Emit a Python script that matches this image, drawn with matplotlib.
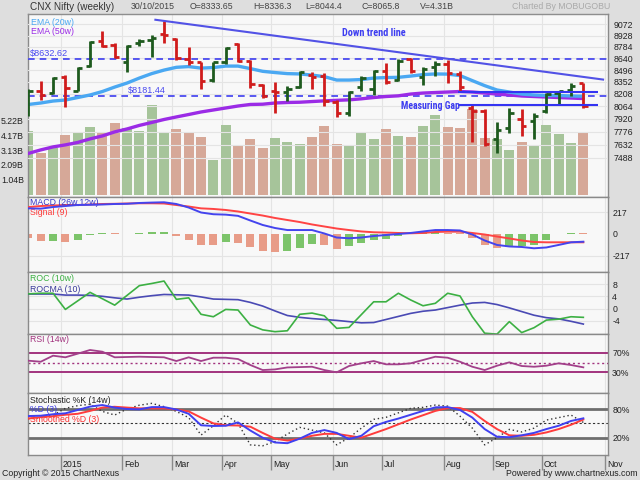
import numpy as np
import matplotlib
matplotlib.use('Agg')
import matplotlib.pyplot as plt
from matplotlib.ticker import FixedLocator, NullLocator, FixedFormatter

plt.rcParams['font.family'] = ['Liberation Sans', 'DejaVu Sans']

# ---------------- data (weekly bars, 19 Dec 2014 .. 30 Oct 2015) ----------------
opens = [8150, 8248, 8214, 8415, 8247, 8550, 8853, 8812, 8591, 8833, 8871, 8948, 8879, 8633,
         8591, 8375, 8599, 8821, 8612, 8319, 8247, 8226, 8295, 8440, 8428, 8119, 7991, 8286,
         8267, 8489, 8375, 8633, 8415, 8529, 8571, 8448, 8049, 8011, 7691, 7814, 7916, 7896,
         8011, 8214, 8259, 8333.65]
highs = [8267, 8367, 8407, 8440, 8529, 8853, 8981, 8828, 8812, 8884, 8935, 9111, 8892, 8777,
         8599, 8600, 8777, 8828, 8624, 8327, 8355, 8307, 8480, 8468, 8460, 8135, 8247, 8428,
         8497, 8578, 8633, 8645, 8529, 8603, 8620, 8489, 8088, 8030, 7882, 8049, 8034, 7991,
         8214, 8247, 8334, 8336.3]
lows = [7953, 8139, 8207, 8057, 8238, 8538, 8777, 8645, 8476, 8799, 8652, 8833, 8620, 8558,
        8267, 8346, 8571, 8591, 8279, 8159, 7991, 8127, 8279, 8267, 8068, 7942, 7953, 8247,
        8198, 8327, 8358, 8460, 8319, 8428, 8334, 8247, 7665, 7617, 7544, 7764, 7727, 7691,
        7991, 8088, 8186, 8044.4]
closes = [8238, 8198, 8400, 8274, 8517, 8841, 8790, 8661, 8799, 8853, 8897, 8939, 8645, 8591,
          8367, 8591, 8765, 8603, 8327, 8186, 8226, 8267, 8468, 8415, 8127, 7991, 8226, 8400,
          8480, 8355, 8612, 8489, 8510, 8571, 8456, 8286, 8011, 7636, 7791, 7991, 7840, 7953,
          8207, 8247, 8307, 8065.8]
volumes_b = [4.45, 2.90, 3.27, 4.18, 4.36, 4.75, 4.34, 4.99, 4.68, 4.48, 6.26, 4.36, 4.61, 4.34,
             4.02, 2.44, 4.87, 3.41, 3.88, 3.29, 3.99, 3.71, 3.55, 4.02, 4.82, 3.55, 3.41, 4.34,
             3.92, 4.57, 4.09, 4.02, 4.80, 5.57, 4.75, 4.68, 5.96, 3.99, 3.90, 3.11, 3.67, 3.43,
             4.89, 4.22, 3.60, 4.31]
ema20 = [8085, 8102, 8125, 8137, 8166, 8196, 8237, 8290, 8338, 8398, 8452, 8495, 8529, 8538,
         8519, 8526, 8544, 8544, 8513, 8480, 8465, 8452, 8448, 8434, 8415, 8374, 8374, 8380,
         8398, 8404, 8407, 8422, 8440, 8448, 8446, 8428, 8367, 8307, 8255, 8231, 8207, 8196,
         8190, 8190, 8184, 8181]
ema50 = [7535, 7573, 7606, 7628, 7655, 7694, 7727, 7772, 7805, 7845, 7878, 7912, 7941, 7969,
         7998, 8021, 8044, 8067, 8085, 8088, 8102, 8108, 8111, 8119, 8127, 8133, 8139, 8151,
         8166, 8178, 8186, 8207, 8219, 8225, 8231, 8237, 8231, 8219, 8207, 8196, 8184, 8178,
         8172, 8166, 8160, 8154]
macd = [253, 250, 266, 276, 286, 288, 291, 296, 298, 306, 310, 313, 296, 261, 212, 195, 191,
        179, 133, 89, 59, 39, 39, 39, 5, -35, -42, -35, -20, -10, 0, 10, 25, 39, 39, 35, -5,
        -64, -108, -123, -128, -141, -133, -108, -82, -76]
signal = [266, 276, 281, 286, 286, 291, 296, 298, 301, 303, 303, 301, 286, 271, 253, 247, 237,
          222, 202, 182, 158, 138, 118, 94, 74, 54, 39, 25, 17, 14, 10, 7, 10, 20, 23, 23, 10,
          -5, -25, -44, -64, -79, -82, -82, -82, -82]
hist = [-40, -72, -70, -79, -62, -12, 10, 6, 4, 14, 16, 18, -20, -56, -105, -112, -82, -89,
        -128, -171, -175, -164, -140, -100, -105, -145, -122, -89, -62, -46, -15, 10, 16, 18,
        14, 8, -43, -112, -138, -128, -122, -105, -62, -5, 12, 10]
roc = [4.8, 5.0, 5.0, -0.3, 2.5, 5.3, 3.2, 1.1, 4.3, 7.5, 8.2, 9.0, 3.0, 3.5, -1.9, -2.7, -0.3,
       -0.5, -5.4, -7.0, -7.6, -7.3, -1.9, -1.5, -2.4, -6.5, -6.2, -2.0, 2.2, 2.2, 5.0, 2.8,
       0.9, 1.7, 5.0, 4.1, -2.7, -8.1, -8.4, -4.3, -7.9, -6.3, -3.8, -3.5, -2.7, -2.9]
rocma = [4.75, 4.75, 4.75, 4.4, 4.4, 4.3, 4.0, 3.5, 3.1, 3.7, 4.2, 4.6, 4.5, 4.4, 3.8, 3.1, 3.0,
         2.9, 2.0, 0.8, -0.8, -2.3, -2.9, -3.3, -3.6, -3.9, -4.3, -4.7, -4.6, -3.6, -2.6, -1.6,
         -0.9, -0.5, 0.3, 1.1, 1.8, 2.0, 1.3, 0.2, -1.0, -2.2, -3.0, -3.4, -4.2, -5.1]
rsi = [53.7, 51.6, 63.9, 60.6, 68.0, 75.5, 72.0, 60.6, 61.2, 61.8, 61.2, 60.6, 53.0, 60.6, 53.0,
       59.8, 59.8, 57.1, 44.9, 34.7, 36.0, 40.0, 40.7, 41.4, 34.7, 30.0, 42.9, 48.4, 53.0, 46.3,
       46.3, 48.4, 55.1, 61.8, 59.8, 51.6, 41.4, 34.7, 43.5, 50.4, 42.9, 41.4, 43.5, 48.4, 44.9,
       40.2]
stoch_k = [60, 62, 67.4, 81.4, 87, 90, 75, 67.4, 80, 88, 91.8, 85, 75, 62, 25.5, 45, 67.4, 50,
           5, 3, 12, 27.6, 41.6, 36, 30, 5, 20, 40, 58.4, 62.6, 72, 81.4, 83.5, 88.3, 86, 65, 40,
           5, 20, 37.4, 32, 40, 56.9, 62, 67.4, 52]
stoch_d = [65.3, 66, 69, 71, 78, 85, 88.3, 83, 80, 79.3, 84, 84, 79, 70, 46, 44.5, 45, 52, 35,
           20, 10, 8.5, 18, 30, 36, 30, 17, 24, 44, 53, 60, 68, 76, 83.5, 84, 78, 62, 38, 22, 21,
           25, 30, 38, 45, 55, 60.5]
stoch_sd = [60, 63, 65, 68, 70, 76, 83, 84.7, 83, 81.4, 81.4, 81.4, 79, 75, 62, 50, 46, 45.5, 43,
            30, 18, 14, 18, 24, 28, 28, 24, 20, 29, 38, 48, 58, 67, 76, 82, 82, 74, 55, 38, 25,
            24, 26, 31, 38, 47, 58]

month_labels = ['2015', 'Feb', 'Mar', 'Apr', 'May', 'Jun', 'Jul', 'Aug', 'Sep', 'Oct', 'Nov']
month_pos = [2.62, 7.6, 11.65, 15.7, 19.68, 24.7, 28.67, 33.7, 37.67, 41.65, 46.76]
price_ticks = [7488, 7632, 7776, 7920, 8064, 8208, 8352, 8496, 8640, 8784, 8928, 9072, 9216]
vol_ticks = [1.044, 2.088, 3.132, 4.176, 5.22]
vol_tick_labels = ['1.04B', '2.09B', '3.13B', '4.17B', '5.22B']
support_levels = [8632.62, 8181.44]
gap_levels = [8226, 8077]
gap_span = [34.85, 46.2]
trend_x = [10.3, 46.6]
trend_y = [9133, 8380]

# ---------------- style ----------------
BG = '#dedede'
PANEL = '#f8f8f8'
GRID = '#e4e4e4'
SPINE = '#8a8a8a'
UP = '#1e5a1e'
DOWN = '#d01c1c'
VUP = '#a6c49a'
VDN = '#d6a898'
FS = 6.3

W, H = 640.0, 480.0
L, R = 28, 608


def rect(top, bottom):
    return [L / W, 1 - bottom / H, (R - L) / W, (bottom - top) / H]


fig = plt.figure(figsize=(6.4, 4.8), dpi=100, facecolor=BG)
x = np.arange(len(closes))
XLIM = (-0.03, 47.0)


def style(ax):
    ax.set_facecolor(PANEL)
    ax.set_xlim(*XLIM)
    for s in ax.spines.values():
        s.set_color(SPINE)
        s.set_linewidth(1.0)
    ax.tick_params(axis='both', length=0, labelsize=FS, colors='#222222', pad=3)
    ax.xaxis.set_major_locator(FixedLocator(month_pos))
    ax.set_xticklabels([])
    for mp in month_pos:
        ax.axvline(mp, color=GRID, lw=0.8, zorder=0)


# ---------------- main panel ----------------
axv = fig.add_axes(rect(14, 197))
style(axv)
vol_up = [True] + [closes[i] >= closes[i - 1] for i in range(1, len(closes))]
axv.bar(x, volumes_b, width=0.8, color=[VUP if u else VDN for u in vol_up], zorder=2)
axv.set_ylim(-0.14, 12.6)
axv.yaxis.set_major_locator(FixedLocator(vol_ticks))
axv.yaxis.set_major_formatter(FixedFormatter(vol_tick_labels))
axv.yaxis.tick_left()

axp = axv.twinx()
axp.set_xlim(*XLIM)
axp.set_yscale('log')
axp.set_ylim(7077, 9209)
axp.patch.set_visible(False)
for s in axp.spines.values():
    s.set_visible(False)
axp.yaxis.set_major_locator(FixedLocator(price_ticks))
axp.yaxis.set_minor_locator(NullLocator())
axp.yaxis.set_major_formatter(FixedFormatter([str(t) for t in price_ticks]))
axp.tick_params(axis='y', length=0, labelsize=FS, colors='#222222', pad=4)
for t in price_ticks:
    axp.axhline(t, color=GRID, lw=0.8, zorder=0)

# support / resistance dashed levels
for lvl in support_levels:
    axp.axhline(lvl, color='#3d3df0', lw=1.2, ls=(0, (4, 3)), zorder=3)
axp.text(0.1, support_levels[0] * 1.0015, '$%.2f' % support_levels[0], color='#4a4af0',
         fontsize=FS + 0.3, va='bottom', ha='left', zorder=6)
axp.text(8.1, support_levels[1] * 1.0015, '$%.2f' % support_levels[1], color='#4a4af0',
         fontsize=FS + 0.3, va='bottom', ha='left', zorder=6)

# EMAs
axp.plot(x, ema50, color='#9b2be6', lw=2.4, zorder=4, solid_capstyle='round')
axp.plot(x, ema20, color='#4aa8f2', lw=2.4, zorder=4, solid_capstyle='round')

# OHLC bars
bar_cols = [UP if c >= o else DOWN for o, c in zip(opens, closes)]
axp.vlines(x, lows, highs, colors=bar_cols, lw=2.0, zorder=5)
axp.hlines(opens, x - 0.35, x, colors=bar_cols, lw=2.0, zorder=5)
axp.hlines(closes, x, x + 0.35, colors=bar_cols, lw=2.0, zorder=5)

# trend line and measuring gap
axp.plot(trend_x, trend_y, color='#5252e6', lw=1.5, zorder=6)
for lvl in gap_levels:
    axp.hlines(lvl, gap_span[0], gap_span[1], color='#3434f2', lw=1.5, zorder=6)
annot_font = ['Liberation Sans Narrow', 'Roboto Condensed', 'DejaVu Sans Condensed',
              'Open Sans Condensed', 'Liberation Sans']
axp.text(25.4, 8965, 'Down trend line', color='#3c3cf0', fontsize=7.4, fontweight='bold',
         family=annot_font, fontstretch='condensed', va='center', ha='left', zorder=7)
axp.text(30.25, 8066, 'Measuring Gap', color='#3c3cf0', fontsize=7.0, fontweight='bold',
         family=annot_font, fontstretch='condensed', va='center', ha='left', zorder=7)

axp.text(0.006, 0.955, 'EMA (20w)', transform=axp.transAxes, color='#4aa8f2', fontsize=FS,
         va='center', ha='left')
axp.text(0.006, 0.905, 'EMA (50w)', transform=axp.transAxes, color='#9b2be6', fontsize=FS,
         va='center', ha='left')

# ---------------- MACD ----------------
axm = fig.add_axes(rect(197, 272))
style(axm)
axm.set_ylim(-375, 365)
hcols = ['#e89c88'] + ['#7cc46a' if hist[i] >= hist[i - 1] else '#e89c88' for i in range(1, len(hist))]
axm.bar(x, hist, width=0.65, color=hcols, zorder=2)
axm.plot(x, signal, color='#ff4444', lw=1.4, zorder=3)
axm.plot(x, macd, color='#4444ee', lw=1.4, zorder=4)
for t in (217, -217):
    axm.axhline(t, color=GRID, lw=0.8, zorder=0)
axm.yaxis.tick_right()
axm.yaxis.set_major_locator(FixedLocator([217, 0, -217]))
axm.yaxis.set_major_formatter(FixedFormatter(['217', '0', '-217']))
axm.text(0.004, 0.93, 'MACD (26w,12w)', transform=axm.transAxes, color='#3535c8', fontsize=FS,
         va='center')
axm.text(0.004, 0.79, 'Signal (9)', transform=axm.transAxes, color='#ff3b3b', fontsize=FS,
         va='center')

# ---------------- ROC ----------------
axr = fig.add_axes(rect(272, 334))
style(axr)
axr.set_ylim(-8.36, 11.97)
for t in (8, 4, 0, -4):
    axr.axhline(t, color=GRID, lw=0.8, zorder=0)
axr.plot(x, rocma, color='#4a4ab4', lw=1.2, zorder=3)
axr.plot(x, roc, color='#3cb043', lw=1.2, zorder=4)
axr.yaxis.tick_right()
axr.yaxis.set_major_locator(FixedLocator([8, 4, 0, -4]))
axr.yaxis.set_major_formatter(FixedFormatter(['8', '4', '0', '-4']))
axr.text(0.004, 0.9, 'ROC (10w)', transform=axr.transAxes, color='#3cb043', fontsize=FS, va='center')
axr.text(0.004, 0.71, 'ROCMA (10)', transform=axr.transAxes, color='#3a3a9a', fontsize=FS, va='center')

# ---------------- RSI ----------------
axs = fig.add_axes(rect(334, 393))
style(axs)
axs.set_ylim(-12, 108)
axs.axhline(70, color='#a2337e', lw=1.4, zorder=2)
axs.axhline(30, color='#a2337e', lw=1.4, zorder=2)
axs.axhline(50, color='#a2337e', lw=1.0, ls=(0, (1.5, 2)), zorder=2)
axs.plot(x, rsi, color='#a2408a', lw=1.3, zorder=3)
axs.yaxis.tick_right()
axs.yaxis.set_major_locator(FixedLocator([70, 30]))
axs.yaxis.set_major_formatter(FixedFormatter(['70%', '30%']))
axs.text(0.004, 0.9, 'RSI (14w)', transform=axs.transAxes, color='#a2337e', fontsize=FS, va='center')

# ---------------- Stochastic ----------------
axk = fig.add_axes(rect(393, 455))
style(axk)
axk.set_ylim(-16.2, 113.5)
axk.axhline(80, color='#6e6e6e', lw=2.0, zorder=2)
axk.axhline(20, color='#6e6e6e', lw=2.0, zorder=2)
axk.axhline(50, color='#333333', lw=0.8, ls=(0, (2, 2)), zorder=2)
axk.plot(x, stoch_k, color='#333333', lw=1.0, ls=(0, (1, 2)), zorder=3)
axk.plot(x, stoch_sd, color='#ff3c3c', lw=1.4, zorder=4)
axk.plot(x, stoch_d, color='#4040f0', lw=1.4, zorder=5)
axk.yaxis.tick_right()
axk.yaxis.set_major_locator(FixedLocator([80, 20]))
axk.yaxis.set_major_formatter(FixedFormatter(['80%', '20%']))
axk.text(0.004, 0.88, 'Stochastic %K (14w)', transform=axk.transAxes, color='#222222', fontsize=FS, va='center')
axk.text(0.004, 0.73, '%D (3)', transform=axk.transAxes, color='#3a3ae6', fontsize=FS, va='center')
axk.text(0.004, 0.57, 'Smoothed %D (3)', transform=axk.transAxes, color='#ff3030', fontsize=FS, va='center')

# month ticks / labels below the last panel
axk.tick_params(axis='x', length=11, width=1.0, color=SPINE, direction='out', pad=0)
for mp, lab in zip(month_pos, month_labels):
    axk.annotate(lab, xy=(mp, 0), xycoords=('data', 'axes fraction'), xytext=(1.5, -7),
                 textcoords='offset points', fontsize=FS, va='center', ha='left', color='#222222')

# ---------------- header / footer ----------------
def ftext(px, py, s, **kw):
    fig.text(px / W, 1 - py / H, s, fontsize=kw.pop('fontsize', FS), va='center', **kw)

ftext(30, 6.5, 'CNX Nifty (weekly)', color='#333333', fontsize=7.2)
ftext(131, 6.5, '30/10/2015', color='#444444')
ftext(190, 6.5, 'O=8333.65', color='#444444')
ftext(253, 6.5, 'H=8336.3', color='#444444')
ftext(305, 6.5, 'L=8044.4', color='#444444')
ftext(361, 6.5, 'C=8065.8', color='#444444')
ftext(420, 6.5, 'V=4.31B', color='#444444')
ftext(610, 6.5, 'Charted By MOBUGOBU', color='#aaaaaa', ha='right')
ftext(2, 474, 'Copyright \u00a9 2015 ChartNexus', color='#222222')
ftext(638, 474, 'Powered by www.chartnexus.com', color='#222222', ha='right')

fig.savefig('out.png', dpi=100, facecolor=BG)
